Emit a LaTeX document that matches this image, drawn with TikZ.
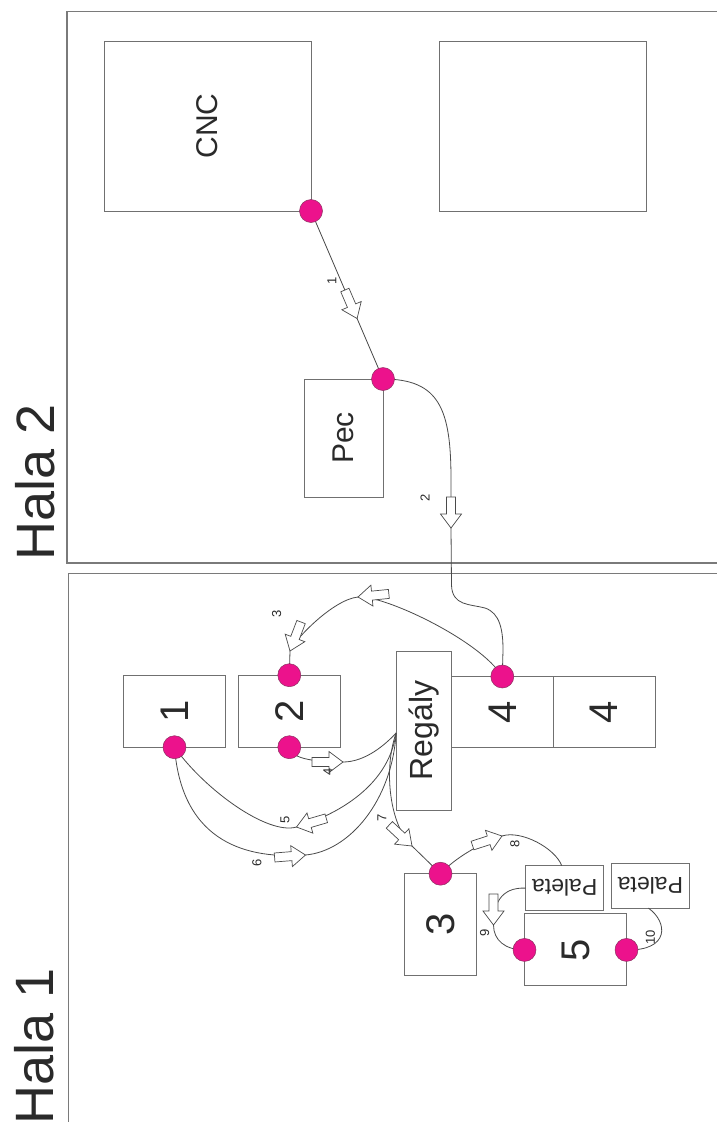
\documentclass[tikz,border=0pt]{standalone}
\usepackage{fontspec}
\setmainfont{Liberation Sans}
\usepackage{graphicx}
\definecolor{boxgray}{HTML}{707070}
\definecolor{halagray}{HTML}{7A7A7A}
\definecolor{lin}{HTML}{4A4A4A}
\definecolor{dotpink}{HTML}{EC128C}
\definecolor{dotline}{HTML}{8C3060}
\definecolor{txt}{HTML}{2A2A2A}
\tikzset{
  box/.style={draw=boxgray, line width=0.9pt, inner sep=0pt, outer sep=0pt, text=txt},
  digit/.style={font=\fontsize{40pt}{40pt}\selectfont},
  midtxt/.style={font=\fontsize{30pt}{30pt}\selectfont},
  paltxt/.style={font=\fontsize{23pt}{23pt}\selectfont},
  dot/.style={circle, fill=dotpink, draw=dotline, line width=0.5pt, minimum size=23pt, inner sep=0pt},
  conn/.style={draw=lin, line width=0.8pt},
  lbl/.style={font=\fontsize{13pt}{13pt}\selectfont, text=txt, inner sep=0pt},
  hala/.style={font=\fontsize{54pt}{54pt}\selectfont, text=txt, inner sep=0pt},
  hallwall/.style={draw=halagray, line width=1.2pt},
  barrow/.pic={\draw[draw=lin, fill=white, line width=0.7pt, line join=miter]
     (0,0) -- (-14,10.5) -- (-14,4.5) -- (-31,4.5) -- (-31,-4.5) -- (-14,-4.5) -- (-14,-10.5) -- cycle;}
}
\begin{document}
\begin{tikzpicture}[x=1pt,y=-1pt]
\useasboundingbox (0,0) rectangle (717,1122);
\fill[white] (0,0) rectangle (717,1122);
% halls
\draw[hallwall] (717,11.5) -- (67,11.5) -- (67,563) -- (717,563);
\draw[hallwall] (717,573.5) -- (68.5,573.5) -- (68.5,1122);
\node[hala] (h2) at (35.5,482.5) {\rotatebox{90}{Hala 2}};
\node[hala] (h1) at (34,1046) {\rotatebox{90}{Hala 1}};
% hall 2 boxes
\node[box, midtxt, minimum width=207pt, minimum height=170pt] (cnc) at (207.5,126) {\rotatebox{90}{CNC}};
\node[box, minimum width=207pt, minimum height=170pt] (blank) at (542.5,126) {};
\node[box, midtxt, minimum width=79pt, minimum height=118pt] (pec) at (343.5,438) {\rotatebox{90}{Pec}};
% hall 1 boxes
\node[box, digit, minimum width=102pt, minimum height=72pt] (b1) at (174.5,711.2) {\rotatebox{90}{1}};
\node[box, digit, minimum width=102pt, minimum height=72pt] (b2) at (289.3,711.2) {\rotatebox{90}{2}};
\node[box, font=\fontsize{32pt}{32pt}\selectfont, minimum width=55pt, minimum height=159pt] (reg) at (423.6,730.5) {\rotatebox{90}{Regály}};
\node[box, digit, minimum width=102pt, minimum height=71pt] (b4a) at (502.3,712) {\rotatebox{90}{4}};
\node[box, digit, minimum width=102pt, minimum height=71pt] (b4b) at (604.2,712) {\rotatebox{90}{4}};
\node[box, digit, minimum width=72pt, minimum height=102pt] (b3) at (440.5,924.7) {\rotatebox{90}{3}};
\node[box, paltxt, minimum width=78pt, minimum height=45pt] (palA) at (564.7,888.1) {\rotatebox{180}{Paleta}};
\node[box, paltxt, minimum width=78pt, minimum height=45pt] (palB) at (650.4,885.6) {\rotatebox{180}{Paleta}};
\node[box, digit, minimum width=102pt, minimum height=72pt] (b5) at (575.5,949.9) {\rotatebox{90}{5}};
\coordinate (hub) at ([yshift=-2.5pt]reg.west);
% connectors
\draw[conn] (cnc.south east) -- coordinate[pos=0.64] (a1) (pec.north east);
\draw[conn] (pec.north east) .. controls (440,379) and (451,410) .. (451,480) -- (451,528) coordinate (a2) -- (451.5,585)
   .. controls (452,606) and (470,604) .. (485,608) .. controls (500,613) and (503,630) .. (503,650) -- (b4a.north);
\draw[conn] (b4a.north) .. controls (480,640) and (382.9,594.5) .. (358,597) coordinate (a3a)
   .. controls (333.1,599.5) and (294.3,639.8) .. (290,651) coordinate (a3b) -- (b2.north);
\draw[conn] (b2.south) .. controls (291,760) and (320,762) .. (343,762) coordinate (a4)
   .. controls (365,762) and (385,745) .. (hub);
\draw[conn] (hub) .. controls (388,790) and (330,817) .. (296.5,827) coordinate (a5)
   .. controls (267.7,835.4) and (205,790) .. (b1.south);
\draw[conn] (b1.south) .. controls (182,845) and (250,859) .. (305.5,855) coordinate (a6)
   .. controls (350,851) and (392,800) .. (hub);
\draw[conn] (hub) .. controls (383,770) and (390,826) .. (412,846) coordinate (a7) -- (b3.north);
\draw[conn] (b3.north) .. controls (455,858) and (481,842.8) .. (502,836) coordinate (a8)
   .. controls (521,829.8) and (555,848) .. ([xshift=-3pt]palA.north);
\draw[conn] (palA.west) .. controls (500,887) and (493.5,905) .. (493.5,925) coordinate (a9)
   .. controls (493.5,940) and (505,950) .. (b5.west);
\draw[conn] (b5.east) .. controls (670,951) and (668,922) .. ([xshift=-2pt]palB.south);
% block arrows
\pic[rotate=-66.8] at (a1) {barrow};
\pic[rotate=-90] at (a2) {barrow};
\pic[rotate=185.7] at (a3a) {barrow};
\pic[rotate=-110.9] at (a3b) {barrow};
\pic[rotate=0] at (a4) {barrow};
\pic[rotate=196.3] at (a5) {barrow};
\pic[rotate=4.6] at (a6) {barrow};
\pic[rotate=-43] at (a7) {barrow};
\pic[rotate=17.9] at (a8) {barrow};
\pic[rotate=-90] at (a9) {barrow};
% dots
\node[dot] (d1) at (cnc.south east) {};
\node[dot] (d2) at (pec.north east) {};
\node[dot] (d3) at (b4a.north) {};
\node[dot] (d4) at (b2.north) {};
\node[dot] (d5) at (b2.south) {};
\node[dot] (d6) at (b1.south) {};
\node[dot] (d7) at (b3.north) {};
\node[dot] (d8) at (b5.west) {};
\node[dot] (d9) at (b5.east) {};
% labels
\node[lbl] (l1) at (332,281) {\rotatebox{90}{1}};
\node[lbl] (l2) at (425,498) {\rotatebox{90}{2}};
\node[lbl] (l3) at (276.6,613.5) {\rotatebox{90}{3}};
\node[lbl] (l4) at (328,772) {\rotatebox{90}{4}};
\node[lbl] (l5) at (285,820) {\rotatebox{90}{5}};
\node[lbl] (l6) at (257,863) {\rotatebox{90}{6}};
\node[lbl] (l7) at (381.8,818) {\rotatebox{90}{7}};
\node[lbl] (l8) at (515,844) {\rotatebox{90}{8}};
\node[lbl] (l9) at (484.6,933) {\rotatebox{90}{9}};
\node[lbl] (l10) at (650.4,937) {\rotatebox{90}{10}};
\end{tikzpicture}
\end{document}
